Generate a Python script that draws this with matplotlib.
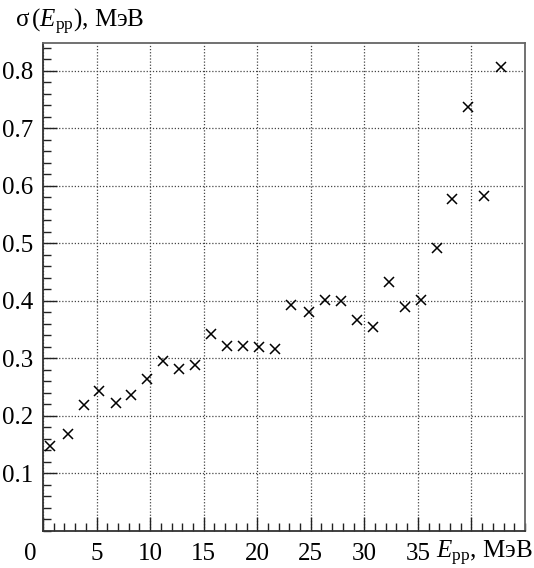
import matplotlib
matplotlib.use("Agg")
import matplotlib.pyplot as plt
from matplotlib.ticker import MultipleLocator, FixedLocator
from matplotlib.transforms import ScaledTranslation

plt.rcParams['font.family'] = ['Liberation Serif', 'DejaVu Serif']
plt.rcParams['mathtext.fontset'] = 'custom'
plt.rcParams['mathtext.rm'] = 'Liberation Serif'
plt.rcParams['mathtext.it'] = 'Liberation Serif:italic'

# energy (MeV) and resolution sigma (MeV)
e_pp = [0.7, 2.3, 3.8, 5.2, 6.8, 8.2, 9.7, 11.2, 12.7, 14.2, 15.7, 17.2, 18.7,
        20.2, 21.7, 23.2, 24.8, 26.3, 27.8, 29.3, 30.8, 32.3, 33.8, 35.3, 36.8,
        38.2, 39.7, 41.2, 42.8]
sigma = [0.148, 0.168, 0.219, 0.244, 0.223, 0.237, 0.264, 0.296, 0.282, 0.289,
         0.343, 0.322, 0.322, 0.320, 0.317, 0.393, 0.380, 0.401, 0.399, 0.366,
         0.354, 0.433, 0.389, 0.401, 0.491, 0.577, 0.736, 0.582, 0.807]

x_ticks = [0, 5, 10, 15, 20, 25, 30, 35, 40]
x_tick_labels = ['0', '5', '10', '15', '20', '25', '30', '35', '']
y_ticks = [0.1, 0.2, 0.3, 0.4, 0.5, 0.6, 0.7, 0.8]
y_tick_labels = ['0.1', '0.2', '0.3', '0.4', '0.5', '0.6', '0.7', '0.8']

fig = plt.figure(figsize=(5.34, 5.68), dpi=100)
ax = fig.add_axes([43/534, 1 - 531/568, (525 - 43)/534, (531 - 43)/568])

ax.plot(e_pp, sigma, linestyle='none', marker='x', color='black',
        markersize=7, markeredgewidth=1.1, zorder=3)

ax.set_xlim(0, 45)
ax.set_ylim(0, 0.848)

ax.xaxis.set_major_locator(FixedLocator(x_ticks))
ax.xaxis.set_minor_locator(MultipleLocator(1))
ax.yaxis.set_major_locator(FixedLocator(y_ticks))
ax.yaxis.set_minor_locator(MultipleLocator(0.02))
ax.set_xticklabels(x_tick_labels)
ax.set_yticklabels(y_tick_labels)

ax.tick_params(which='both', direction='in', colors='#222222', labelsize=18,
               labelcolor='black')
ax.tick_params(which='major', length=10, width=1.0)
ax.tick_params(which='minor', length=6, width=1.0)
ax.tick_params(axis='x', pad=9)
ax.tick_params(axis='y', pad=7)

ax.grid(True, which='major', color='#444444', linestyle=(0, (1, 1.5)),
        linewidth=0.9)

for s in ax.spines.values():
    s.set_linewidth(1.3)
    s.set_color('#333333')
ax.spines['right'].set_color('#666666')
ax.spines['top'].set_color('#666666')

# the "0" label sits left of its tick
lab0 = ax.get_xticklabels()[0]
lab0.set_transform(lab0.get_transform() + ScaledTranslation(-0.13, 0, fig.dpi_scale_trans))

fig.text(15/534, 1 - 27/568, r'σ$\,$($E_{\rm pp}$), МэВ', fontsize=18,
         ha='left', va='baseline')
fig.text(533/534, 1 - 558/568, r'$E_{\rm pp}$, МэВ', fontsize=18,
         ha='right', va='baseline')

fig.savefig('out.png', dpi=100)
